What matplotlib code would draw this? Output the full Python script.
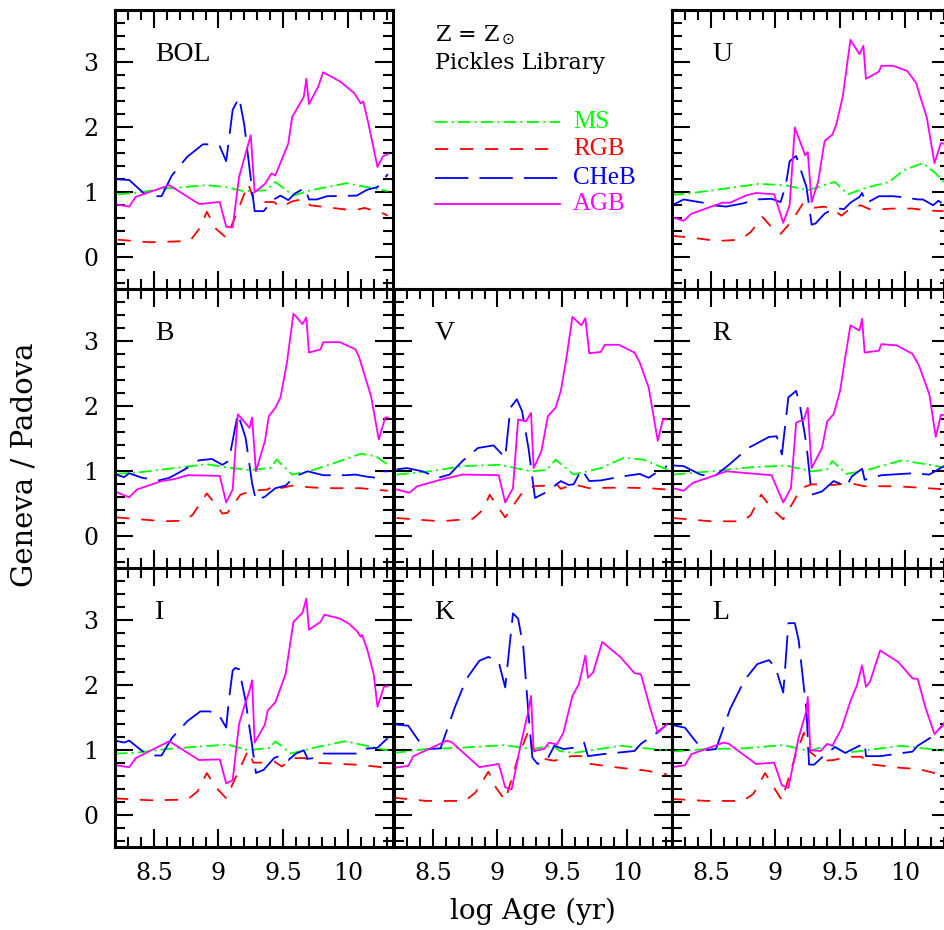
import matplotlib
matplotlib.use('Agg')
import matplotlib.pyplot as plt
from matplotlib.ticker import MultipleLocator, FormatStrFormatter

# ---- data: Geneva / Padova ratios vs log age, per band and phase ----
bol_ms_x = [8.22, 8.35, 8.60, 8.91, 9.06, 9.19, 9.37, 9.44, 9.58, 9.71, 9.99, 10.31]
bol_ms_y = [0.96, 0.98, 1.05, 1.10, 1.07, 1.01, 1.02, 1.15, 0.94, 1.02, 1.13, 1.01]
bol_rgb_x = [8.22, 8.47, 8.78, 8.86, 8.91, 8.98, 9.06, 9.13, 9.23, 9.27, 9.35, 9.43, 9.48, 9.57, 9.66, 9.71, 10.05, 10.13, 10.28, 10.31]
bol_rgb_y = [0.26, 0.22, 0.24, 0.45, 0.69, 0.43, 0.29, 0.61, 1.12, 0.89, 0.84, 0.84, 0.76, 0.85, 0.89, 0.79, 0.71, 0.75, 0.66, 0.63]
bol_cheb_x = [8.22, 8.31, 8.42, 8.50, 8.56, 8.64, 8.76, 8.88, 8.95, 9.01, 9.06, 9.11, 9.16, 9.20, 9.25, 9.28, 9.35, 9.42, 9.48, 9.54, 9.59, 9.67, 9.70, 9.76, 9.84, 10.07, 10.15, 10.23, 10.31]
bol_cheb_y = [1.19, 1.18, 0.98, 0.93, 0.93, 1.25, 1.54, 1.73, 1.73, 1.70, 1.47, 2.26, 2.45, 2.03, 1.20, 0.70, 0.70, 0.87, 0.94, 0.87, 0.97, 1.06, 0.88, 0.88, 0.93, 0.94, 1.03, 1.07, 1.27]
bol_agb_x = [8.22, 8.31, 8.36, 8.62, 8.85, 9.01, 9.06, 9.11, 9.16, 9.25, 9.28, 9.36, 9.41, 9.44, 9.54, 9.57, 9.66, 9.68, 9.70, 9.77, 9.81, 9.94, 10.05, 10.10, 10.12, 10.16, 10.23, 10.27, 10.31]
bol_agb_y = [0.80, 0.77, 0.92, 1.10, 0.81, 0.84, 0.46, 0.45, 1.23, 1.87, 0.99, 1.12, 1.28, 1.25, 1.74, 2.15, 2.46, 2.74, 2.35, 2.61, 2.84, 2.70, 2.52, 2.36, 2.39, 2.05, 1.38, 1.54, 1.58]

u_ms_x = [8.20, 8.36, 8.62, 8.87, 9.08, 9.25, 9.42, 9.46, 9.56, 9.70, 9.88, 9.99, 10.14, 10.24, 10.30]
u_ms_y = [0.95, 0.98, 1.05, 1.12, 1.10, 1.02, 1.13, 1.15, 0.96, 1.06, 1.15, 1.33, 1.44, 1.28, 1.15]
u_rgb_x = [8.20, 8.36, 8.55, 8.73, 8.81, 8.90, 8.98, 9.04, 9.12, 9.21, 9.29, 9.38, 9.47, 9.51, 9.59, 9.66, 9.74, 9.91, 10.06, 10.17, 10.30]
u_rgb_y = [0.32, 0.29, 0.24, 0.26, 0.38, 0.61, 0.43, 0.35, 0.53, 0.81, 0.75, 0.77, 0.69, 0.63, 0.76, 0.79, 0.72, 0.74, 0.74, 0.71, 0.70]
u_cheb_x = [8.20, 8.29, 8.44, 8.51, 8.62, 8.75, 8.85, 8.97, 9.04, 9.08, 9.11, 9.16, 9.24, 9.28, 9.31, 9.38, 9.46, 9.53, 9.58, 9.65, 9.67, 9.70, 9.80, 9.91, 10.01, 10.10, 10.14, 10.22, 10.26, 10.30]
u_cheb_y = [0.79, 0.88, 0.83, 0.79, 0.77, 0.82, 0.88, 0.89, 0.84, 1.10, 1.47, 1.55, 1.07, 0.49, 0.51, 0.66, 0.75, 0.73, 0.83, 0.92, 0.98, 0.82, 0.93, 0.93, 0.91, 0.88, 0.88, 0.79, 0.86, 0.81]
u_agb_x = [8.20, 8.29, 8.35, 8.49, 8.59, 8.65, 8.77, 8.85, 8.99, 9.06, 9.11, 9.15, 9.23, 9.25, 9.28, 9.33, 9.38, 9.44, 9.47, 9.52, 9.58, 9.65, 9.68, 9.70, 9.80, 9.82, 9.91, 10.02, 10.09, 10.10, 10.17, 10.23, 10.28, 10.30]
u_agb_y = [0.61, 0.55, 0.66, 0.76, 0.83, 0.83, 0.94, 0.98, 0.96, 0.52, 0.79, 1.99, 1.56, 1.61, 0.84, 1.15, 1.78, 1.88, 2.03, 2.46, 3.34, 3.12, 3.25, 2.74, 2.85, 2.94, 2.94, 2.86, 2.67, 2.59, 2.15, 1.44, 1.75, 1.74]

b_ms_x = [8.21, 8.41, 8.70, 8.91, 9.07, 9.24, 9.40, 9.45, 9.57, 9.73, 9.90, 10.10, 10.22, 10.31]
b_ms_y = [0.95, 0.98, 1.05, 1.10, 1.05, 1.01, 1.04, 1.17, 0.94, 1.01, 1.12, 1.26, 1.22, 1.09]
b_rgb_x = [8.21, 8.58, 8.74, 8.80, 8.91, 8.99, 9.03, 9.07, 9.17, 9.26, 9.38, 9.44, 9.48, 9.57, 9.73, 9.90, 10.10, 10.31]
b_rgb_y = [0.28, 0.22, 0.23, 0.32, 0.65, 0.45, 0.34, 0.35, 0.63, 0.69, 0.71, 0.78, 0.73, 0.77, 0.74, 0.73, 0.73, 0.69]
b_cheb_x = [8.21, 8.27, 8.31, 8.41, 8.54, 8.62, 8.74, 8.85, 8.95, 9.03, 9.08, 9.15, 9.21, 9.26, 9.29, 9.36, 9.44, 9.52, 9.59, 9.69, 9.81, 9.98, 10.06, 10.14, 10.22, 10.27, 10.31]
b_cheb_y = [0.94, 0.90, 0.96, 0.89, 0.85, 0.89, 1.02, 1.16, 1.18, 1.09, 1.15, 1.88, 1.51, 0.81, 0.54, 0.60, 0.73, 0.77, 0.91, 0.99, 0.93, 0.93, 0.94, 0.91, 0.89, 0.99, 0.99]
b_agb_x = [8.21, 8.31, 8.37, 8.56, 8.66, 8.76, 9.01, 9.06, 9.11, 9.15, 9.24, 9.26, 9.29, 9.36, 9.39, 9.44, 9.48, 9.53, 9.58, 9.65, 9.68, 9.70, 9.79, 9.81, 9.94, 10.06, 10.09, 10.10, 10.18, 10.24, 10.29, 10.31]
b_agb_y = [0.67, 0.59, 0.71, 0.84, 0.87, 0.93, 0.92, 0.51, 0.71, 1.87, 1.66, 1.82, 0.99, 1.46, 1.84, 1.97, 2.13, 2.67, 3.42, 3.26, 3.36, 2.82, 2.87, 2.98, 2.98, 2.87, 2.74, 2.67, 2.15, 1.48, 1.82, 1.82]

v_ms_x = [8.22, 8.48, 8.73, 9.02, 9.26, 9.38, 9.45, 9.59, 9.80, 9.98, 10.13, 10.25, 10.31]
v_ms_y = [0.94, 0.99, 1.07, 1.09, 0.99, 1.01, 1.17, 0.94, 1.04, 1.20, 1.17, 1.07, 1.02]
v_rgb_x = [8.22, 8.56, 8.81, 8.89, 8.94, 9.01, 9.06, 9.18, 9.28, 9.38, 9.45, 9.49, 9.59, 9.71, 9.96, 10.17, 10.31]
v_rgb_y = [0.27, 0.22, 0.26, 0.40, 0.63, 0.42, 0.28, 0.63, 0.76, 0.77, 0.81, 0.72, 0.79, 0.73, 0.74, 0.73, 0.71]
v_cheb_x = [8.22, 8.30, 8.42, 8.54, 8.63, 8.73, 8.85, 8.97, 9.06, 9.10, 9.15, 9.19, 9.24, 9.29, 9.38, 9.49, 9.55, 9.59, 9.65, 9.71, 9.80, 9.96, 10.10, 10.17, 10.25, 10.31]
v_cheb_y = [1.02, 1.04, 0.99, 0.89, 0.94, 1.15, 1.35, 1.39, 1.20, 1.97, 2.10, 1.92, 1.35, 0.58, 0.67, 0.84, 0.78, 0.79, 1.02, 0.84, 0.85, 0.91, 0.95, 0.89, 1.00, 1.07]
v_agb_x = [8.22, 8.32, 8.38, 8.56, 8.73, 9.01, 9.06, 9.12, 9.16, 9.22, 9.26, 9.28, 9.34, 9.39, 9.45, 9.49, 9.53, 9.58, 9.65, 9.68, 9.71, 9.80, 9.83, 9.94, 10.06, 10.10, 10.17, 10.24, 10.28, 10.31]
v_agb_y = [0.71, 0.66, 0.76, 0.86, 0.94, 0.93, 0.51, 0.73, 1.79, 1.76, 1.89, 1.04, 1.30, 1.84, 1.97, 2.23, 2.69, 3.37, 3.24, 3.35, 2.81, 2.83, 2.94, 2.94, 2.82, 2.67, 2.28, 1.46, 1.79, 1.79]

r_ms_x = [8.21, 8.50, 8.79, 9.08, 9.28, 9.40, 9.44, 9.55, 9.69, 9.98, 10.19, 10.33]
r_ms_y = [0.94, 0.99, 1.05, 1.08, 0.99, 1.02, 1.15, 0.95, 1.00, 1.16, 1.09, 1.04]
r_rgb_x = [8.21, 8.50, 8.75, 8.81, 8.89, 8.97, 9.06, 9.20, 9.28, 9.45, 9.57, 9.69, 9.94, 10.33]
r_rgb_y = [0.27, 0.22, 0.22, 0.32, 0.63, 0.42, 0.25, 0.73, 0.79, 0.78, 0.81, 0.76, 0.76, 0.71]
r_cheb_x = [8.21, 8.29, 8.42, 8.52, 8.64, 8.79, 8.95, 9.01, 9.05, 9.10, 9.16, 9.19, 9.24, 9.28, 9.36, 9.45, 9.55, 9.59, 9.67, 9.69, 9.82, 10.06, 10.19, 10.33]
r_cheb_y = [1.08, 1.07, 0.94, 0.90, 1.09, 1.35, 1.52, 1.53, 1.25, 2.13, 2.23, 2.00, 1.40, 0.63, 0.68, 0.84, 0.76, 0.91, 1.03, 0.86, 0.93, 0.96, 0.94, 1.10]
r_agb_x = [8.21, 8.29, 8.36, 8.62, 8.97, 9.06, 9.12, 9.16, 9.22, 9.25, 9.28, 9.36, 9.40, 9.45, 9.50, 9.54, 9.58, 9.65, 9.67, 9.69, 9.80, 9.82, 9.94, 10.06, 10.11, 10.19, 10.24, 10.28, 10.33]
r_agb_y = [0.73, 0.69, 0.81, 0.99, 0.93, 0.51, 0.73, 1.74, 1.79, 1.97, 1.04, 1.35, 1.76, 1.87, 2.23, 2.75, 3.24, 3.16, 3.34, 2.82, 2.85, 2.95, 2.93, 2.80, 2.62, 2.18, 1.52, 1.86, 1.86]

i_ms_x = [8.20, 8.35, 8.60, 8.86, 9.07, 9.23, 9.40, 9.44, 9.56, 9.74, 9.98, 10.31]
i_ms_y = [0.94, 0.95, 1.01, 1.05, 1.08, 0.99, 1.03, 1.13, 0.94, 1.03, 1.13, 0.99]
i_rgb_x = [8.20, 8.47, 8.76, 8.84, 8.91, 8.98, 9.06, 9.13, 9.23, 9.27, 9.35, 9.43, 9.49, 9.58, 9.67, 9.74, 10.05, 10.12, 10.31]
i_rgb_y = [0.25, 0.22, 0.23, 0.36, 0.64, 0.42, 0.25, 0.56, 0.99, 0.80, 0.80, 0.82, 0.74, 0.87, 0.87, 0.80, 0.77, 0.76, 0.72]
i_cheb_x = [8.20, 8.27, 8.31, 8.41, 8.50, 8.56, 8.64, 8.76, 8.86, 8.93, 9.00, 9.06, 9.08, 9.11, 9.13, 9.16, 9.21, 9.26, 9.29, 9.35, 9.43, 9.48, 9.54, 9.60, 9.66, 9.69, 9.74, 9.81, 10.07, 10.11, 10.23, 10.31]
i_cheb_y = [1.14, 1.11, 1.14, 0.98, 0.91, 0.91, 1.18, 1.44, 1.59, 1.59, 1.55, 1.34, 1.75, 2.22, 2.26, 2.24, 1.75, 1.07, 0.64, 0.69, 0.87, 0.91, 0.84, 0.94, 0.99, 0.86, 0.87, 0.94, 0.94, 1.01, 1.03, 1.18]
i_agb_x = [8.20, 8.31, 8.36, 8.62, 8.85, 9.01, 9.06, 9.11, 9.16, 9.20, 9.24, 9.26, 9.28, 9.36, 9.38, 9.44, 9.52, 9.58, 9.65, 9.68, 9.70, 9.79, 9.82, 9.94, 10.01, 10.07, 10.10, 10.11, 10.15, 10.20, 10.23, 10.28, 10.31]
i_agb_y = [0.76, 0.73, 0.87, 1.13, 0.84, 0.85, 0.48, 0.53, 1.40, 1.67, 1.91, 2.07, 1.11, 1.39, 1.60, 1.73, 2.17, 2.97, 3.11, 3.33, 2.85, 2.97, 3.08, 3.02, 2.94, 2.83, 2.74, 2.77, 2.55, 2.17, 1.66, 1.97, 1.98]

k_ms_x = [8.20, 8.45, 8.72, 9.05, 9.27, 9.43, 9.48, 9.59, 9.95, 10.31]
k_ms_y = [0.95, 1.01, 1.03, 1.07, 1.01, 1.06, 0.98, 0.95, 1.06, 0.99]
k_rgb_x = [8.20, 8.45, 8.75, 8.83, 8.93, 8.99, 9.06, 9.16, 9.24, 9.27, 9.32, 9.38, 9.44, 9.57, 9.68, 9.72, 9.95, 10.14, 10.31]
k_rgb_y = [0.26, 0.21, 0.21, 0.34, 0.66, 0.41, 0.22, 0.88, 1.29, 1.03, 0.90, 0.85, 0.83, 0.90, 0.90, 0.78, 0.72, 0.68, 0.62]
k_cheb_x = [8.20, 8.31, 8.39, 8.46, 8.56, 8.67, 8.76, 8.86, 8.93, 9.01, 9.06, 9.12, 9.16, 9.20, 9.24, 9.27, 9.31, 9.38, 9.44, 9.51, 9.59, 9.67, 9.70, 9.81, 10.06, 10.11, 10.22, 10.31]
k_cheb_y = [1.39, 1.37, 1.14, 1.01, 1.02, 1.65, 2.09, 2.37, 2.43, 2.35, 1.96, 3.10, 3.02, 2.58, 1.55, 0.88, 0.78, 0.83, 1.06, 1.01, 1.03, 1.11, 0.90, 0.93, 0.98, 1.09, 1.24, 1.39]
k_agb_x = [8.20, 8.31, 8.35, 8.61, 8.65, 8.86, 9.01, 9.06, 9.11, 9.18, 9.24, 9.26, 9.28, 9.36, 9.40, 9.46, 9.51, 9.58, 9.63, 9.68, 9.70, 9.74, 9.81, 9.95, 10.06, 10.11, 10.18, 10.24, 10.31]
k_agb_y = [0.72, 0.75, 0.90, 1.14, 1.11, 0.73, 0.78, 0.42, 0.39, 1.08, 1.60, 1.83, 0.98, 1.01, 1.11, 1.08, 1.26, 1.83, 2.01, 2.45, 2.11, 2.19, 2.66, 2.43, 2.18, 2.16, 1.65, 1.26, 1.39]

l_ms_x = [8.20, 8.47, 8.75, 9.06, 9.26, 9.43, 9.54, 9.97, 10.33]
l_ms_y = [0.97, 1.01, 1.02, 1.07, 0.98, 1.08, 0.95, 1.06, 0.98]
l_rgb_x = [8.20, 8.47, 8.75, 8.83, 8.92, 8.99, 9.05, 9.15, 9.22, 9.26, 9.32, 9.37, 9.45, 9.56, 9.67, 9.71, 9.97, 10.11, 10.33]
l_rgb_y = [0.24, 0.21, 0.21, 0.32, 0.64, 0.41, 0.22, 0.88, 1.26, 0.98, 0.88, 0.83, 0.84, 0.89, 0.89, 0.78, 0.72, 0.70, 0.59]
l_cheb_x = [8.20, 8.30, 8.39, 8.46, 8.54, 8.65, 8.76, 8.86, 8.95, 9.00, 9.06, 9.07, 9.10, 9.15, 9.18, 9.24, 9.26, 9.30, 9.37, 9.46, 9.54, 9.65, 9.69, 9.70, 9.81, 10.06, 10.10, 10.22, 10.33]
l_cheb_y = [1.38, 1.34, 1.11, 0.99, 1.01, 1.63, 2.07, 2.32, 2.38, 2.27, 1.88, 2.12, 2.95, 2.95, 2.68, 1.60, 0.77, 0.77, 0.90, 1.04, 0.95, 1.06, 1.11, 0.90, 0.90, 0.97, 1.06, 1.21, 1.46]
l_agb_x = [8.20, 8.30, 8.35, 8.60, 8.64, 8.85, 8.99, 9.05, 9.10, 9.18, 9.24, 9.25, 9.27, 9.35, 9.40, 9.44, 9.51, 9.58, 9.63, 9.67, 9.70, 9.73, 9.81, 9.95, 10.06, 10.10, 10.16, 10.23, 10.33]
l_agb_y = [0.73, 0.76, 0.93, 1.11, 1.09, 0.78, 0.80, 0.45, 0.41, 1.19, 1.60, 1.81, 0.99, 0.98, 1.09, 1.06, 1.32, 1.75, 1.99, 2.30, 1.97, 2.04, 2.53, 2.35, 2.10, 2.09, 1.65, 1.24, 1.46]

band_labels = ['BOL', 'U', 'B', 'V', 'R', 'I', 'K', 'L']
phase_names = ['MS', 'RGB', 'CHeB', 'AGB']

# ---- styles ----
plt.rcParams['lines.scale_dashes'] = False
plt.rcParams['font.family'] = 'DejaVu Serif'
colors = {'MS': '#00ff00', 'RGB': '#ff0000', 'CHeB': '#0000ff', 'AGB': '#ff00ff'}
dashes = {'MS': (9, 3, 1.5, 3), 'RGB': (9.5, 8.5), 'CHeB': (24, 8), 'AGB': None}

series = {
    'BOL': [(bol_ms_x, bol_ms_y), (bol_rgb_x, bol_rgb_y), (bol_cheb_x, bol_cheb_y), (bol_agb_x, bol_agb_y)],
    'U': [(u_ms_x, u_ms_y), (u_rgb_x, u_rgb_y), (u_cheb_x, u_cheb_y), (u_agb_x, u_agb_y)],
    'B': [(b_ms_x, b_ms_y), (b_rgb_x, b_rgb_y), (b_cheb_x, b_cheb_y), (b_agb_x, b_agb_y)],
    'V': [(v_ms_x, v_ms_y), (v_rgb_x, v_rgb_y), (v_cheb_x, v_cheb_y), (v_agb_x, v_agb_y)],
    'R': [(r_ms_x, r_ms_y), (r_rgb_x, r_rgb_y), (r_cheb_x, r_cheb_y), (r_agb_x, r_agb_y)],
    'I': [(i_ms_x, i_ms_y), (i_rgb_x, i_rgb_y), (i_cheb_x, i_cheb_y), (i_agb_x, i_agb_y)],
    'K': [(k_ms_x, k_ms_y), (k_rgb_x, k_rgb_y), (k_cheb_x, k_cheb_y), (k_agb_x, k_agb_y)],
    'L': [(l_ms_x, l_ms_y), (l_rgb_x, l_rgb_y), (l_cheb_x, l_cheb_y), (l_agb_x, l_agb_y)],
}

W, H = 944, 930
fig = plt.figure(figsize=(W / 100, H / 100), dpi=100)

col_left = [115, 394, 672]
row_top = [10, 289, 568]
pw, ph = 278, 279

def make_line(ax, x, y, name, lw=1.3):
    ln, = ax.plot(x, y, color=colors[name], lw=lw)
    if dashes[name] is not None:
        ln.set_dashes(dashes[name])
    return ln

grid = [('BOL', 0, 0), (None, 0, 1), ('U', 0, 2),
        ('B', 1, 0), ('V', 1, 1), ('R', 1, 2),
        ('I', 2, 0), ('K', 2, 1), ('L', 2, 2)]

for band, r, c in grid:
    rect = [col_left[c] / W, 1 - (row_top[r] + ph) / H, pw / W, ph / H]
    ax = fig.add_axes(rect)
    if band is None:
        # legend panel, no frame of its own
        ax.set_axis_off()
        ax.set_xlim(0, 1)
        ax.set_ylim(0, 1)
        ax.text(0.147, 0.91, r'Z = Z$_\odot$', fontsize=16, va='center', ha='left')
        ax.text(0.147, 0.81, 'Pickles Library', fontsize=16, va='center', ha='left')
        ly = [0.599, 0.502, 0.398, 0.305]
        for name, yy in zip(phase_names, ly):
            make_line(ax, [0.147, 0.597], [yy, yy], name)
            ax.text(0.644, yy, name, color=colors[name], fontsize=18,
                    family='Liberation Serif', va='center', ha='left')
        continue

    for name, (x, y) in zip(phase_names, series[band]):
        make_line(ax, x, y, name)

    ax.set_xlim(8.2, 10.35)
    ax.set_ylim(-0.5, 3.8)
    ax.xaxis.set_major_locator(MultipleLocator(0.5))
    ax.xaxis.set_minor_locator(MultipleLocator(0.1))
    ax.yaxis.set_major_locator(MultipleLocator(1))
    ax.yaxis.set_minor_locator(MultipleLocator(0.2))
    ax.xaxis.set_major_formatter(FormatStrFormatter('%g'))
    ax.yaxis.set_major_formatter(FormatStrFormatter('%g'))
    ax.tick_params(which='both', direction='in', top=True, right=True,
                   width=1.5, labelsize=17, pad=11)
    ax.tick_params(which='major', length=13)
    ax.tick_params(which='minor', length=7.2)
    ax.tick_params(axis='y', pad=12)
    for sp in ax.spines.values():
        sp.set_linewidth(2.2)
    if c != 0:
        ax.tick_params(labelleft=False)
    if r != 2:
        ax.tick_params(labelbottom=False)
    ax.text(0.145, 0.84, band, transform=ax.transAxes, fontsize=20,
            family='Liberation Serif', va='center', ha='left')

fig.text(0.026, 0.5, 'Geneva / Padova', rotation=90, fontsize=21,
         va='center', ha='center')
fig.text(533 / W, 0.02, 'log Age (yr)', fontsize=20, va='center', ha='center')

fig.savefig('out.png', dpi=100)
